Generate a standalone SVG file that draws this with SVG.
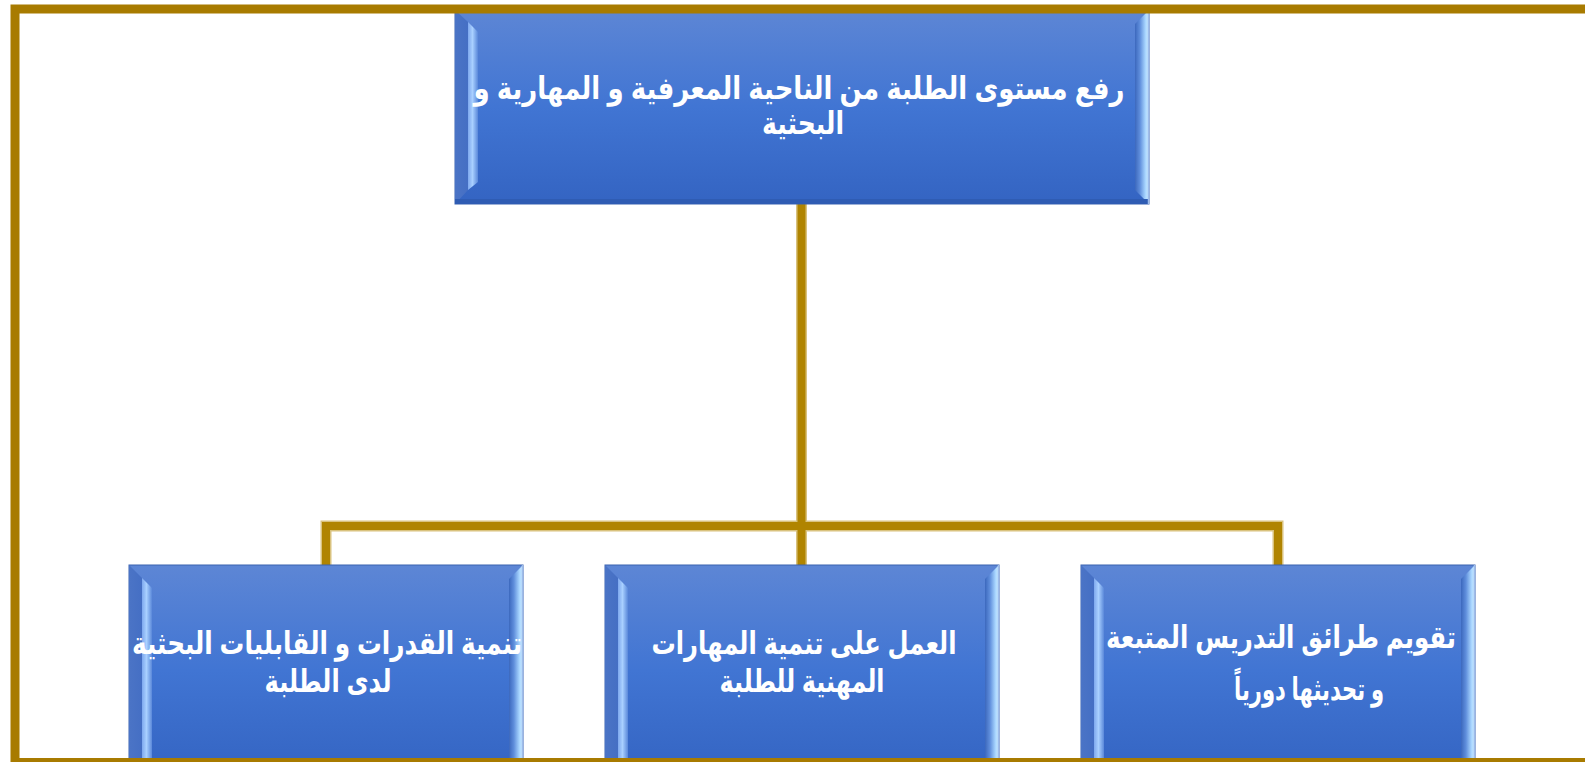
<svg xmlns="http://www.w3.org/2000/svg" width="1585" height="762" viewBox="0 0 1585 762">
<defs>
<linearGradient id="gBody" x1="0" y1="0" x2="0" y2="1">
<stop offset="0" stop-color="#5D86D5"/>
<stop offset="0.5" stop-color="#4175D3"/>
<stop offset="1" stop-color="#3464C2"/>
</linearGradient>
<linearGradient id="gLeft" x1="0" y1="0" x2="1" y2="0">
<stop offset="0" stop-color="#4B74C6"/>
<stop offset="1" stop-color="#456FC4"/>
</linearGradient>
<linearGradient id="gHi" x1="0" y1="0" x2="1" y2="0">
<stop offset="0" stop-color="#7EA8EE"/>
<stop offset="0.45" stop-color="#A9D0FF"/>
<stop offset="1" stop-color="#5A88DA"/>
</linearGradient>
<linearGradient id="gRight" x1="0" y1="0" x2="1" y2="0">
<stop offset="0" stop-color="#3C68BD"/>
<stop offset="0.35" stop-color="#5F8EDC"/>
<stop offset="0.75" stop-color="#A9D6FF"/>
<stop offset="1" stop-color="#D2EEFF"/>
</linearGradient>
<style>
.frame{fill:none;stroke:#A87B00;stroke-width:9}
.conn{fill:none;stroke-linecap:butt}
.connEdge{stroke:#D9C27E;stroke-width:11}
.connCore{stroke:#B08400;stroke-width:8}
.body{fill:url(#gBody);stroke:#3A62B0;stroke-width:1}
.lf{fill:url(#gLeft)}
.hi{fill:url(#gHi)}
.rf{fill:url(#gRight)}
.bot{fill:#2F5CB3}
.edge{fill:none;stroke:#9DBCEB;stroke-width:1.5}
.lbl{font-family:"Liberation Sans","DejaVu Sans",Arial,sans-serif;font-weight:bold;font-size:31px;fill:#FFFFFF;text-anchor:middle}
</style>
</defs>
<rect width="1585" height="762" fill="#FFFFFF"/>

<g id="connectors" class="conn">
<path class="connEdge" d="M801.5 204 V526 M326 565 V526 H1278 V565 M801.5 526 V565"/>
<path class="connCore" d="M801.5 204 V526 M326 565 V526 H1278 V565 M801.5 526 V565"/>
</g>

<g id="node-top">
<rect class="body" x="455" y="10" width="694" height="194"/>
<polygon class="lf" points="455,10 468,22 468,190 455,204"/>
<polygon class="hi" points="468,22 478,32 478,182 468,190"/>
<polygon class="rf" points="1149,10 1135,24 1135,190 1149,204"/>
<rect class="bot" x="455" y="199" width="694" height="5"/>
<line class="edge" x1="1148.5" y1="10" x2="1148.5" y2="204"/>
<text class="lbl" x="799" y="99" textLength="651" lengthAdjust="spacingAndGlyphs">رفع مستوى الطلبة من الناحية المعرفية و المهارية و</text>
<text class="lbl" x="803" y="134" textLength="82" lengthAdjust="spacingAndGlyphs">البحثية</text>
</g>

<g id="node-left">
<rect class="body" x="129" y="565" width="394" height="210"/>
<polygon class="lf" points="129,565 142,578 142,762 129,762"/>
<polygon class="hi" points="142,578 152,588 152,762 142,762"/>
<polygon class="rf" points="523,565 509,579 509,762 523,762"/>
<line class="edge" x1="522.5" y1="565" x2="522.5" y2="762"/>
<text class="lbl" x="327" y="654" textLength="390" lengthAdjust="spacingAndGlyphs">تنمية القدرات و القابليات البحثية</text>
<text class="lbl" x="328" y="692" textLength="127" lengthAdjust="spacingAndGlyphs">لدى الطلبة</text>
</g>

<g id="node-middle">
<rect class="body" x="605" y="565" width="394" height="210"/>
<polygon class="lf" points="605,565 618,578 618,762 605,762"/>
<polygon class="hi" points="618,578 628,588 628,762 618,762"/>
<polygon class="rf" points="999,565 985,579 985,762 999,762"/>
<line class="edge" x1="998.5" y1="565" x2="998.5" y2="762"/>
<text class="lbl" x="804" y="654" textLength="305" lengthAdjust="spacingAndGlyphs">العمل على تنمية المهارات</text>
<text class="lbl" x="802" y="692" textLength="165" lengthAdjust="spacingAndGlyphs">المهنية للطلبة</text>
</g>

<g id="node-right">
<rect class="body" x="1081" y="565" width="394" height="210"/>
<polygon class="lf" points="1081,565 1094,578 1094,762 1081,762"/>
<polygon class="hi" points="1094,578 1104,588 1104,762 1094,762"/>
<polygon class="rf" points="1475,565 1461,579 1461,762 1475,762"/>
<line class="edge" x1="1474.5" y1="565" x2="1474.5" y2="762"/>
<text class="lbl" x="1281" y="648" textLength="350" lengthAdjust="spacingAndGlyphs">تقويم طرائق التدريس المتبعة</text>
<text class="lbl" x="1309" y="700" textLength="150" lengthAdjust="spacingAndGlyphs">و تحديثها دورياً</text>
</g>

<rect class="frame" x="15" y="9" width="1600" height="753.5"/>
</svg>
